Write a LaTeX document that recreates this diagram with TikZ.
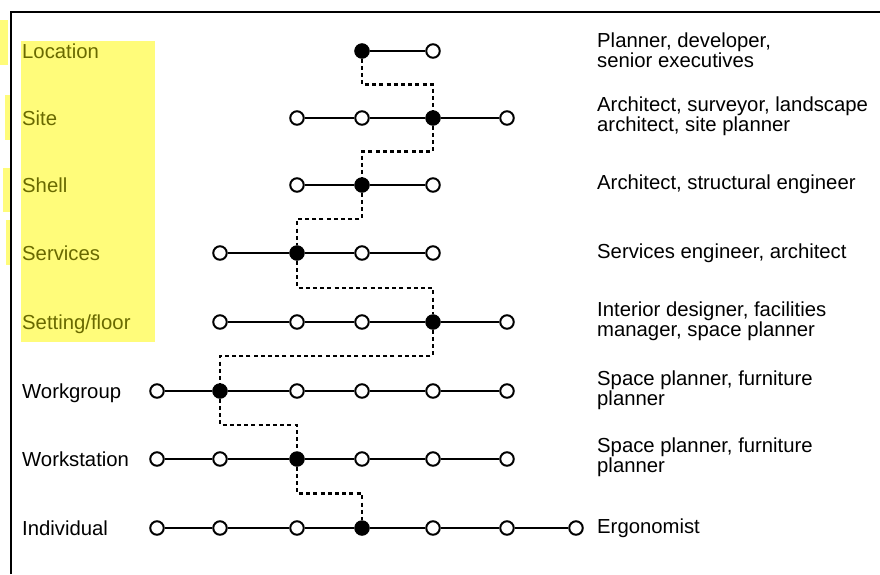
\documentclass[tikz,border=0pt]{standalone}
\usepackage{fontspec}
\setmainfont{Liberation Sans}
\definecolor{hiyellow}{RGB}{255,252,122}
\definecolor{olivetext}{RGB}{105,105,0}
\begin{document}
\begin{tikzpicture}[x=1pt,y=-1pt,
  every node/.style={font=\fontsize{20.3}{19.5}\selectfont},
  opencirc/.style={circle,draw=black,fill=white,line width=2pt,minimum size=13.5pt,inner sep=0pt},
  fullcirc/.style={circle,draw=black,fill=black,line width=1pt,minimum size=14.5pt,inner sep=0pt},
  edge/.style={line width=2pt,black},
  dline/.style={line width=2.6pt,black,dash pattern=on 4pt off 3.2pt},
  leftlab/.style={anchor=base west,inner sep=0pt},
  hilab/.style={leftlab,text=olivetext},
  rightlab/.style={anchor=west,align=left,inner sep=0pt}
]
\useasboundingbox (0,0) rectangle (880,574);
\fill[white] (0,0) rectangle (880,574);
% highlights
\fill[hiyellow] (21,41) rectangle (155,342);
\fill[hiyellow] (0,20) rectangle (8,65);
\fill[hiyellow] (5,95) rectangle (12,140);
\fill[hiyellow] (3,168) rectangle (10,212);
\fill[hiyellow] (6,220) rectangle (11,265);
% frame
\draw[line width=2.2pt] (11,574) -- (11,12) -- (880,12);

% circles
\foreach \r/\y/\cols/\f in {
  1/51/{4,5}/4,
  2/118/{3,4,5,6}/5,
  3/185/{3,4,5}/4,
  4/253/{2,3,4,5}/3,
  5/322/{2,3,4,5,6}/5,
  6/391/{1,2,3,4,5,6}/2,
  7/459/{1,2,3,4,5,6}/3,
  8/528/{1,2,3,4,5,6,7}/4}{
  \foreach \c in \cols {
    \pgfmathsetmacro\xx{{157,220,297,362,433,507,576}[\c-1]}
    \ifnum\c=\f\relax
      \node[fullcirc] (n\r-\c) at (\xx,\y) {};
    \else
      \node[opencirc] (n\r-\c) at (\xx,\y) {};
    \fi
  }
}

% solid connectors
\draw[edge] (n1-4) -- (n1-5);
\draw[edge] (n2-3) -- (n2-4) -- (n2-5) -- (n2-6);
\draw[edge] (n3-3) -- (n3-4) -- (n3-5);
\draw[edge] (n4-2) -- (n4-3) -- (n4-4) -- (n4-5);
\draw[edge] (n5-2) -- (n5-3) -- (n5-4) -- (n5-5) -- (n5-6);
\draw[edge] (n6-1) -- (n6-2) -- (n6-3) -- (n6-4) -- (n6-5) -- (n6-6);
\draw[edge] (n7-1) -- (n7-2) -- (n7-3) -- (n7-4) -- (n7-5) -- (n7-6);
\draw[edge] (n8-1) -- (n8-2) -- (n8-3) -- (n8-4) -- (n8-5) -- (n8-6) -- (n8-7);

% dashed path between chosen levels
\coordinate (m1) at (0,84.5);
\coordinate (m2) at (0,151.5);
\coordinate (m3) at (0,219);
\coordinate (m4) at (0,288);
\coordinate (m5) at (0,356);
\coordinate (m6) at (0,425);
\coordinate (m7) at (0,493.5);
\draw[dline] (n1-4) |- (n2-5 |- m1) -- (n2-5);
\draw[dline] (n2-5) |- (n3-4 |- m2) -- (n3-4);
\draw[dline] (n3-4) |- (n4-3 |- m3) -- (n4-3);
\draw[dline] (n4-3) |- (n5-5 |- m4) -- (n5-5);
\draw[dline] (n5-5) |- (n6-2 |- m5) -- (n6-2);
\draw[dline] (n6-2) |- (n7-3 |- m6) -- (n7-3);
\draw[dline] (n7-3) |- (n8-4 |- m7) -- (n8-4);

% left labels
\node[hilab] (l1) at (22,58) {Location};
\node[hilab] (l2) at (22,125) {Site};
\node[hilab] (l3) at (22,192) {Shell};
\node[hilab] (l4) at (22,260) {Services};
\node[hilab] (l5) at (22,329) {Setting/floor};
\node[leftlab] (l6) at (22,398) {Workgroup};
\node[leftlab] (l7) at (22,466) {Workstation};
\node[leftlab] (l8) at (22,535) {Individual};

% right labels
\node[rightlab] (t1) at (597,50) {Planner, developer,\\senior executives};
\node[rightlab] (t2) at (597,116) {Architect, surveyor, landscape\\architect, site planner};
\node[rightlab] (t3) at (597,184) {Architect, structural engineer};
\node[rightlab] (t4) at (597,253) {Services engineer, architect};
\node[rightlab] (t5) at (597,321) {Interior designer, facilities\\manager, space planner};
\node[rightlab] (t6) at (597,390) {Space planner, furniture\\planner};
\node[rightlab] (t7) at (597,457) {Space planner, furniture\\planner};
\node[rightlab] (t8) at (597,528) {Ergonomist};
\end{tikzpicture}
\end{document}
